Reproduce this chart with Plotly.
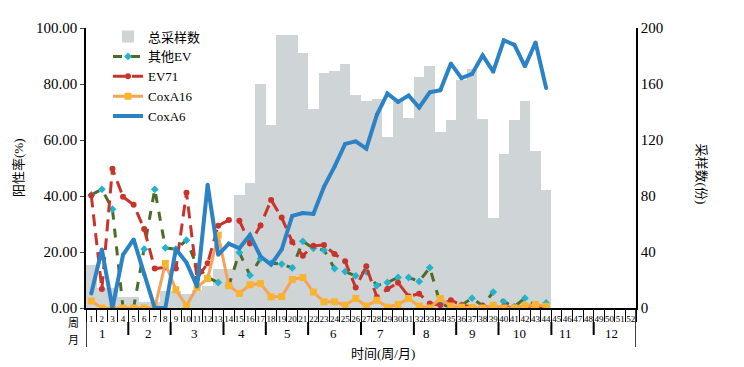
import plotly.graph_objects as go

# ---------------- data ----------------
weeks = list(range(1, 53))
week_labels = [str(w) for w in weeks]
month_labels = [str(m) for m in range(1, 13)]
# last week of each month (week boundaries for month dividers)
month_bounds = [0, 4, 8, 13, 17, 21, 26, 31, 35, 39, 44, 48, 52]

data_weeks = list(range(1, 45))

total_samples = [31, 14, 14, 8, 8, 4, 4, 12, 12, 10, 13, 16, 28, 28, 81, 89,
                 160, 131, 195, 195, 182, 142, 168, 169, 174, 152, 148, 149,
                 122, 148, 136, 165, 173, 126, 134, 163, 171, 135, 64, 110,
                 134, 148, 112, 84]

other_ev = [40.4, 42.4, 35.3, 0, 0, 21, 42.4, 21.5, 21, 24.2, 14.9, 10.9, 9.1,
            8, 19.8, 11.7, 17.6, 16, 15.7, 14.3, 23.8, 21.3, 20.7, 14.1, 13,
            11.5, 13, 8, 9.1, 10.9, 10.9, 9.5, 14.4, 1.5, 0.3, 1.0, 3.5, 0.8,
            5.7, 2.2, 0.5, 3.5, 1.0, 1.8]

ev71 = [40.2, 6.8, 49.7, 39.7, 36.9, 28.2, 14.1, 14.5, 14.1, 41.2, 10.5, 16,
        29.4, 31.4, 31.2, 23, 29.5, 38.6, 32.3, 23.6, 18.7, 22.2, 22.5, 19.3,
        16.7, 7.3, 14.9, 3.9, 6.8, 9.0, 4.2, 5.1, 1.6, 1.0, 2.8, 1.0, 0.4, 0.8,
        0.0, 0.5, 0.0, 0.4, 1.0, 0.0]

coxa16 = [2.5, 0, 0, 0, 0, 0, 0, 15.9, 6.5, 0.8, 7.4, 10.5, 26, 8, 5.2, 8.3,
          8.7, 4.0, 4.1, 10.2, 10.9, 5.7, 2.2, 2.2, 1.0, 3.4, 0.7, 2.8, 0.3,
          1.3, 3.4, 0.7, 0.0, 3.4, 0.7, 0.3, 0.2, 0.0, 1.0, 0.0, 0.0, 0.8, 1.2,
          0.6]

coxa6 = [5.2, 20.9, 0, 19, 24.5, 12, 0, 0, 21.1, 16.2, 7.7, 44, 19, 23, 21.3,
         26.1, 18.4, 15.5, 20.9, 32.9, 33.9, 33.6, 43.3, 50.5, 58.6, 59.5, 56.9,
         69, 76.6, 73.6, 75.9, 71.6, 77, 77.8, 87.3, 82.1, 83.6, 90.2, 84.4,
         95.6, 94, 86.3, 94.8, 78.6]

# ---------------- style ----------------
FONT = "Liberation Serif, Noto Sans CJK SC, serif"
BAR_C = "#cfd4d7"
GREEN = "#4f6b2a"
CYAN = "#23b3cc"
RED = "#c8342b"
ORANGE_L = "#f7a25a"
ORANGE_M = "#f9b42c"
BLUE = "#2b82c4"

fig = go.Figure()

fig.add_trace(go.Bar(
    x=data_weeks, y=total_samples, name="总采样数",
    marker=dict(color=BAR_C, line=dict(width=0)), yaxis="y",
))
fig.add_trace(go.Scatter(
    x=data_weeks, y=other_ev, name="其他EV", yaxis="y2", mode="lines+markers",
    line=dict(color=GREEN, width=3, dash="dash"),
    marker=dict(symbol="diamond", size=6, color=CYAN),
))
fig.add_trace(go.Scatter(
    x=data_weeks, y=ev71, name="EV71", yaxis="y2", mode="lines+markers",
    line=dict(color=RED, width=3, dash="12px,7px"),
    marker=dict(symbol="circle", size=6, color=RED),
))
fig.add_trace(go.Scatter(
    x=data_weeks, y=coxa16, name="CoxA16", yaxis="y2", mode="lines+markers",
    line=dict(color=ORANGE_L, width=3),
    marker=dict(symbol="square", size=7, color=ORANGE_M),
))
fig.add_trace(go.Scatter(
    x=data_weeks, y=coxa6, name="CoxA6", yaxis="y2", mode="lines+markers",
    line=dict(color=BLUE, width=4),
    marker=dict(symbol="circle", size=4, color=BLUE),
))

shapes = []
for i, b in enumerate(month_bounds):
    edge = (i == 0 or i == len(month_bounds) - 1)
    shapes.append(dict(
        type="line", xref="x", yref="paper", ysizemode="pixel", yanchor=0,
        x0=b + 0.5, x1=b + 0.5,
        y0=0 if edge else -14, y1=-39 if edge else -27,
        line=dict(color="black", width=1.5 if edge else 2),
    ))

annotations = []
for i, m in enumerate(month_labels):
    annotations.append(dict(
        x=2.04 + i * 4.38, xref="x", y=0, yref="paper", yshift=-25,
        text=m, showarrow=False, yanchor="middle", xanchor="center",
        font=dict(family=FONT, size=13, color="black"),
    ))
annotations += [
    dict(x=0, xref="paper", xanchor="right", xshift=-5, y=0, yref="paper",
         yshift=-15, yanchor="middle", text="周", showarrow=False,
         font=dict(family=FONT, size=11, color="black")),
    dict(x=0, xref="paper", xanchor="right", xshift=-5, y=0, yref="paper",
         yshift=-32, yanchor="middle", text="月", showarrow=False,
         font=dict(family=FONT, size=11, color="black")),
    dict(x=(383 - 86.4) / 549, xref="paper", xanchor="center", y=0,
         yref="paper", yshift=-45, yanchor="middle", text="时间(周/月)",
         showarrow=False, font=dict(family=FONT, size=13, color="black")),
    dict(x=0, xref="paper", xshift=-68, xanchor="center", y=0.5, yref="paper",
         yanchor="middle", text="阳性率(%)", textangle=-90, showarrow=False,
         font=dict(family=FONT, size=13, color="black")),
    dict(x=1, xref="paper", xshift=65, xanchor="center", y=0.48, yref="paper",
         yanchor="middle", text="采样数(份)", textangle=90, showarrow=False,
         font=dict(family=FONT, size=13, color="black")),
]

# the page body adds an 8px offset, so the figure is 8px smaller on each side
fig.update_layout(
    width=736, height=359,
    margin=dict(l=78, r=108, t=12, b=59),
    paper_bgcolor="white", plot_bgcolor="white",
    bargap=0,
    showlegend=True,
    legend=dict(x=0.04, y=1.023, xanchor="left", yanchor="top",
                bgcolor="rgba(0,0,0,0)", itemwidth=30, tracegroupgap=0,
                font=dict(family=FONT, size=13, color="black")),
    xaxis=dict(
        range=[0.5, 52.5], tickmode="array", tickvals=weeks,
        ticktext=week_labels, ticks="outside", ticklen=1,
        tickcolor="rgba(0,0,0,0)", showgrid=False, zeroline=False,
        showline=True, linecolor="black", linewidth=1.5,
        tickfont=dict(family=FONT, size=9, color="black"), tickangle=0,
        minor=dict(tickmode="array", tickvals=[w + 0.5 for w in range(0, 53)],
                   ticks="outside", ticklen=12, tickcolor="black",
                   tickwidth=1, showgrid=False),
    ),
    yaxis=dict(
        side="right", range=[0, 200], tickmode="array",
        tickvals=[0, 40, 80, 120, 160, 200], ticks="",
        showgrid=False, zeroline=False, showline=True, linecolor="black",
        linewidth=1.5, tickfont=dict(family=FONT, size=15, color="black"),
    ),
    yaxis2=dict(
        overlaying="y", side="left", range=[0, 100], tickmode="array",
        tickvals=[0, 20, 40, 60, 80, 100], tickformat=".2f", ticks="outside",
        ticklen=4, showgrid=False, zeroline=False, showline=True,
        linecolor="black", linewidth=1.5,
        tickfont=dict(family=FONT, size=15, color="black"),
    ),
    shapes=shapes,
    annotations=annotations,
)

fig.write_html("out.html")
